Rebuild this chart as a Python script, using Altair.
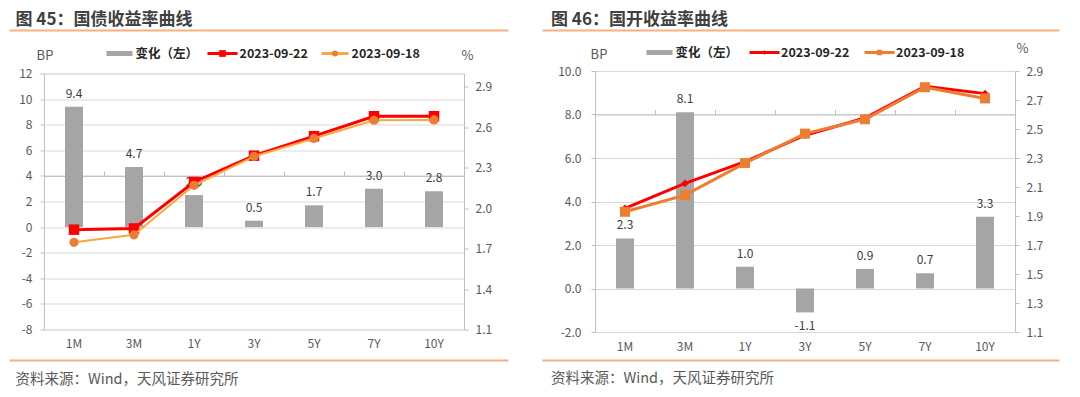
import altair as alt
import pandas as pd

# ---------------- data ----------------
TENORS = ["1M", "3M", "1Y", "3Y", "5Y", "7Y", "10Y"]
SERIES = ["变化（左）", "2023-09-22", "2023-09-18"]

# 国债
GZ_CHANGE = [9.4, 4.7, 2.5, 0.5, 1.7, 3.0, 2.8]
GZ_0922 = [1.841, 1.850, 2.195, 2.390, 2.535, 2.683, 2.683]
GZ_0918 = [1.747, 1.803, 2.170, 2.385, 2.518, 2.653, 2.655]
GZ_BAR_TICKS = [-8, -6, -4, -2, 0, 2, 4, 6, 8, 10, 12]
GZ_LINE_TICKS = [1.1, 1.4, 1.7, 2.0, 2.3, 2.6, 2.9]

# 国开
KK_CHANGE = [2.3, 8.1, 1.0, -1.1, 0.9, 0.7, 3.3]
KK_0922 = [1.952, 2.125, 2.275, 2.457, 2.576, 2.795, 2.744]
KK_0918 = [1.929, 2.044, 2.265, 2.468, 2.567, 2.788, 2.711]
KK_BAR_TICKS = [-2, 0, 2, 4, 6, 8, 10]
KK_LINE_TICKS = [1.1, 1.3, 1.5, 1.7, 1.9, 2.1, 2.3, 2.5, 2.7, 2.9]

TITLES = ["图 45：国债收益率曲线", "图 46：国开收益率曲线"]
SOURCE = "资料来源：Wind，天风证券研究所"

FONT = "Noto Sans CJK SC"
AX_TXT = "#595959"
LBL_TXT = "#404040"
GRID = "#d9d9d9"
AXLINE = "#bfbfbf"
BAR = "#a5a5a5"
DECO = "#f4b183"
RED = "#ff0000"

ONE = pd.DataFrame({"k": [0]})


def txt(s, x, y, size, color, weight="normal", align="left", baseline="middle"):
    return alt.Chart(ONE).mark_text(
        text=s, align=align, baseline=baseline, fontSize=size, font=FONT,
        fontWeight=weight, color=color
    ).encode(x=alt.value(x), y=alt.value(y))


def hrule(x1, x2, y, color, w):
    return alt.Chart(ONE).mark_rule(color=color, strokeWidth=w).encode(
        x=alt.value(x1), x2=alt.value(x2), y=alt.value(y))


def dot(x, y, shape, size, color):
    return alt.Chart(ONE).mark_point(shape=shape, size=size, filled=True, opacity=1, color=color).encode(
        x=alt.value(x), y=alt.value(y))


def panel(cfg):
    W, H = cfg["W"], cfg["H"]
    lo, hi = cfg["bar_domain"]
    bar_df = pd.DataFrame({"tenor": TENORS, "change": cfg["change"]})
    line_df = pd.DataFrame({
        "tenor": TENORS * 2,
        "series": [SERIES[1]] * len(TENORS) + [SERIES[2]] * len(TENORS),
        "yield": cfg["y22"] + cfg["y18"],
    })
    xs = alt.Scale(domain=TENORS, paddingInner=0, paddingOuter=0)
    x_lab = alt.X("tenor:N", sort=TENORS, scale=xs, axis=alt.Axis(
        title=None, labelAngle=0, ticks=False, domain=False, grid=False,
        labelPadding=9, labelFontSize=12, labelColor=AX_TXT, labelFont=FONT))
    yb = alt.Y("change:Q", scale=alt.Scale(domain=[lo, hi], nice=False, zero=False), axis=alt.Axis(
        title=None, values=cfg["bar_ticks"], format=cfg["bar_fmt"], grid=True, gridColor=GRID,
        domainColor=AXLINE, tickColor=AXLINE, tickSize=4, labelPadding=cfg["lpad"],
        labelFontSize=12, labelColor=AX_TXT, labelFont=FONT))

    bars = alt.Chart(bar_df).mark_bar(color=BAR, width={"band": 0.3}).encode(x=x_lab, y=yb)
    pos = alt.Chart(bar_df).transform_filter("datum.change >= 0").mark_text(
        baseline="bottom", dy=-6, fontSize=12, color=LBL_TXT, font=FONT
    ).encode(x=x_lab, y=yb, text=alt.Text("change:Q", format=".1f"))
    neg = alt.Chart(bar_df).transform_filter("datum.change < 0").mark_text(
        baseline="top", dy=9, fontSize=12, color=LBL_TXT, font=FONT
    ).encode(x=x_lab, y=yb, text=alt.Text("change:Q", format=".1f"))

    L = cfg["leg"]
    V = cfg["v"]
    deco = [
        txt(cfg["title"], cfg["title_x"], V["title"], 17, "#404040", weight="bold"),
        hrule(cfg["rule_x"][0], cfg["rule_x"][1], V["top_rule"], DECO, 2),
        hrule(cfg["rule_x"][0], cfg["rule_x"][1], V["bot_rule"], DECO, 2),
        txt(SOURCE, cfg["title_x"], V["source"], 14.5, AX_TXT),
        txt("BP", cfg["bp_x"], V["bp"], 13, AX_TXT, align="center"),
        txt("%", cfg["pct_x"], V["pct"], 13, AX_TXT, align="center"),
        alt.Chart(ONE).mark_rect(color=BAR).encode(
            x=alt.value(L["sw"][0]), x2=alt.value(L["sw"][1]),
            y=alt.value(V["leg"] - 2.5), y2=alt.value(V["leg"] + 2.5)),
        txt(SERIES[0], L["t0"], V["leg"], 12.5, "#262626", weight="bold"),
        hrule(L["r1"][0], L["r1"][1], V["leg"], RED, 3),
        dot((L["r1"][0] + L["r1"][1]) / 2, V["leg"], cfg["m22"], cfg["lm22"], cfg["p22"]),
        txt(SERIES[1], L["t1"], V["leg"], 12.5, "#262626", weight="bold"),
        hrule(L["r2"][0], L["r2"][1], V["leg"], cfg["c18"], 3),
        dot((L["r2"][0] + L["r2"][1]) / 2, V["leg"], cfg["m18"], cfg["lm18"], cfg["p18"]),
        txt(SERIES[2], L["t2"], V["leg"], 12.5, "#262626", weight="bold"),
    ]
    bar_group = alt.layer(bars, pos, neg, *deco)

    x_tick = alt.X("tenor:N", sort=TENORS, scale=xs, axis=alt.Axis(
        title=None, labels=False, bandPosition=0, ticks=True, tickSize=5, tickColor=AXLINE,
        domain=True, domainColor=AXLINE, grid=False, offset=-H * (0 - lo) / (hi - lo)))
    yl = alt.Y("yield:Q", scale=alt.Scale(domain=cfg["line_domain"], nice=False, zero=False), axis=alt.Axis(
        title=None, orient="right", values=cfg["line_ticks"], format=".1f", grid=False,
        domainColor=AXLINE, tickColor=AXLINE, tickSize=4, labelPadding=7,
        labelFontSize=12, labelColor=AX_TXT, labelFont=FONT))

    base = alt.Chart(line_df)
    s22 = base.transform_filter(alt.datum.series == SERIES[1])
    s18 = base.transform_filter(alt.datum.series == SERIES[2])
    line_group = alt.layer(
        s22.mark_line(color=RED, strokeWidth=cfg["w22"]).encode(x=x_tick, y=yl),
        s22.mark_point(shape=cfg["m22"], size=cfg["s22"], filled=True, opacity=1, color=cfg["p22"]).encode(x=x_tick, y=yl),
        s18.mark_line(color=cfg["c18"], strokeWidth=cfg["w18"]).encode(x=x_tick, y=yl),
        s18.mark_point(shape=cfg["m18"], size=cfg["s18"], filled=True, opacity=1, color=cfg["p18"]).encode(x=x_tick, y=yl),
    )
    return alt.layer(bar_group, line_group).resolve_scale(y="independent").resolve_axis(
        x="independent").properties(width=W, height=H)


left = panel(dict(
    W=420, H=256, change=GZ_CHANGE, y22=GZ_0922, y18=GZ_0918,
    bar_domain=[-8, 12], bar_ticks=GZ_BAR_TICKS, bar_fmt="d", lpad=8,
    line_domain=[1.1, 3.0], line_ticks=GZ_LINE_TICKS,
    title=TITLES[0], title_x=-28.5, rule_x=[-34.5, 464.5],
    bp_x=1, pct_x=423.5,
    v=dict(title=-54, top_rule=-43, bot_rule=287, source=306, bp=-18, pct=-18, leg=-20),
    leg=dict(sw=[62.5, 88.5], t0=91.5, r1=[163.5, 193.5], t1=195.5, r2=[277.5, 304.5], t2=307.5),
    m22="square", s22=110, lm22=45, p22=RED, w22=3,
    m18="circle", s18=85, lm18=35, p18="#ed7d31", c18="#f7a93b", w18=2,
))

right = panel(dict(
    W=420, H=261, change=KK_CHANGE, y22=KK_0922, y18=KK_0918,
    bar_domain=[-2, 10], bar_ticks=KK_BAR_TICKS, bar_fmt=".1f", lpad=10,
    line_domain=[1.1, 2.9], line_ticks=KK_LINE_TICKS,
    title=TITLES[1], title_x=-44, rule_x=[-52.5, 464.5],
    bp_x=4, pct_x=427.5,
    v=dict(title=-51.5, top_rule=-40.5, bot_rule=289.5, source=307.5, bp=-16.5, pct=-22.5, leg=-18.5),
    leg=dict(sw=[51.5, 77.5], t0=80.5, r1=[154.5, 184.5], t1=186, r2=[269.5, 299.5], t2=301),
    m22="diamond", s22=60, lm22=22, p22=RED, w22=3,
    m18="square", s18=100, lm18=30, p18="#ed7d31", c18="#ed7d31", w18=3,
))

chart = alt.hconcat(left, right, spacing=131, bounds="flush", center=True).properties(
    padding={"left": 0, "top": 2, "right": 0, "bottom": 0}
).configure_view(stroke=None).configure(
    font=FONT, background="white",
    locale={"number": {"decimal": ".", "thousands": ",", "grouping": [3],
                       "currency": ["", ""], "minus": "-"}},
)

chart.save("out.html", embed_options={"renderer": "svg", "actions": False})
